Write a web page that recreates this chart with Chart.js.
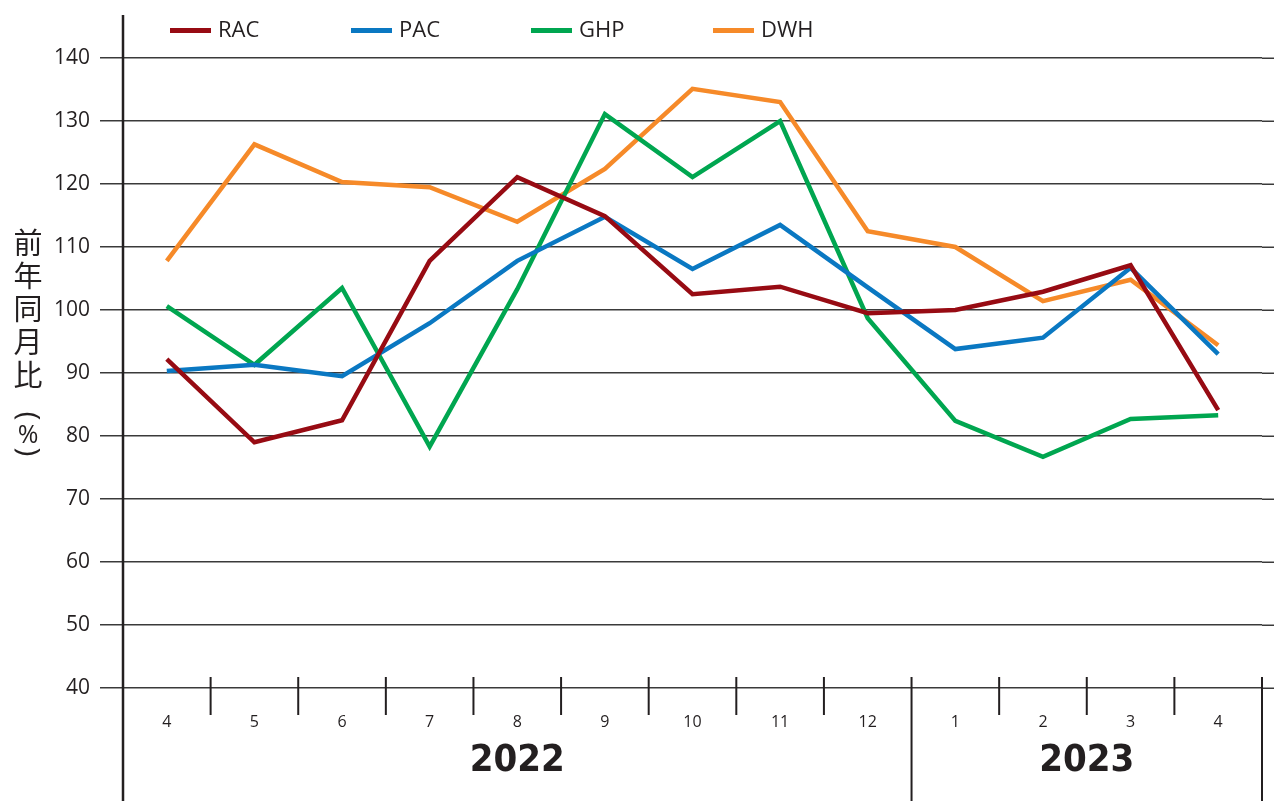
<!DOCTYPE html>
<html><head><meta charset="utf-8">
<script src="https://cdn.jsdelivr.net/npm/chart.js@4/dist/chart.umd.min.js"></script>
<style>html,body{margin:0;padding:0;background:#fff;}#wrap{width:1274px;height:801px;}</style>
</head><body><div id="wrap"><canvas id="c" width="1274" height="801"></canvas></div>
<script>
const months = ['4','5','6','7','8','9','10','11','12','1','2','3','4'];
const yearLabels = ['2022','2023'];
const yearSpans = [[0,8],[9,12]];
const rac = [92.2,79.0,82.5,107.8,121.1,114.9,102.5,103.7,99.5,100.0,102.9,107.1,84.1];
const pac = [90.3,91.3,89.5,97.9,107.8,114.8,106.5,113.5,103.6,93.8,95.6,106.7,93.0];
const ghp = [100.6,91.3,103.5,78.3,103.3,131.1,121.1,130.0,98.7,82.4,76.7,82.7,83.3];
const dwh = [107.8,126.3,120.3,119.5,114.0,122.4,135.1,133.0,112.5,110.0,101.4,104.8,94.4];
const seriesNames = ['RAC','PAC','GHP','DWH'];
const seriesColors = ['#970b13','#0a78c2','#00a650','#f68a29'];
const yTitleChars = ['前','年','同','月','比'];
const INK = '#231f20';
const FONT = "'Open Sans', 'Noto Sans', sans-serif";

const decor = {
  id:'decor',
  afterDraw(chart){
    const ctx = chart.ctx, ca = chart.chartArea, x = chart.scales.x, y = chart.scales.y;
    const W = chart.width, H = chart.height;
    ctx.save();
    // extend gridlines to right edge
    ctx.strokeStyle = '#3a3a3a'; ctx.lineWidth = 1.5;
    for (let v = 40; v <= 140; v += 10){
      const py = Math.round(y.getPixelForValue(v)) + 0.25;
      ctx.beginPath(); ctx.moveTo(ca.right, py); ctx.lineTo(W, py); ctx.stroke();
    }
    // y axis line
    ctx.strokeStyle = INK; ctx.lineWidth = 2.5;
    ctx.beginPath(); ctx.moveTo(ca.left, 15); ctx.lineTo(ca.left, H); ctx.stroke();
    // category separators
    const base = y.getPixelForValue(40);
    ctx.lineWidth = 2;
    for (let i = 1; i <= months.length; i++){
      let px;
      if (i < months.length) px = (x.getPixelForValue(i-1) + x.getPixelForValue(i))/2;
      else px = x.getPixelForValue(i-1) + (x.getPixelForValue(1)-x.getPixelForValue(0))/2;
      const long = (i === yearSpans[1][0]) || i === months.length;
      ctx.beginPath(); ctx.moveTo(px, base - 11); ctx.lineTo(px, long ? H : base + 27); ctx.stroke();
    }
    // year labels
    ctx.fillStyle = INK;
    ctx.font = "bold 38px 'Liberation Sans Narrow', 'DejaVu Sans Condensed', sans-serif";
    ctx.textAlign = 'center'; ctx.textBaseline = 'middle';
    yearLabels.forEach((lab, k) => {
      const cx = (x.getPixelForValue(yearSpans[k][0]) + x.getPixelForValue(yearSpans[k][1]))/2;
      ctx.fillText(lab, cx, 761);
    });
    // legend
    ctx.font = '22px ' + FONT; ctx.textAlign = 'left';
    const lx = [170, 351, 531, 713];
    seriesNames.forEach((n, k) => {
      ctx.fillStyle = seriesColors[k];
      ctx.fillRect(lx[k], 28, 41, 5);
      ctx.fillStyle = INK;
      ctx.fillText(n, lx[k] + 48, 31);
    });
    // y title
    ctx.font = "29px 'Noto Sans CJK JP', sans-serif"; ctx.textAlign = 'center';
    yTitleChars.forEach((ch, k) => ctx.fillText(ch, 28, 243 + k*33));
    ctx.font = '30px ' + FONT;
    ctx.save(); ctx.translate(28, 416); ctx.rotate(Math.PI/2); ctx.fillText('(', 0, 0); ctx.restore();
    ctx.save(); ctx.translate(28, 452); ctx.rotate(Math.PI/2); ctx.fillText(')', 0, 0); ctx.restore();
    ctx.font = '25px ' + FONT;
    ctx.fillText('%', 28, 436);
    ctx.restore();
  }
};

const data = {
  labels: months,
  datasets: [rac, pac, ghp, dwh].map((d, k) => ({
    label: seriesNames[k], data: d, borderColor: seriesColors[k], backgroundColor: seriesColors[k],
    borderWidth: 4.5, pointRadius: 0, tension: 0, fill: false
  }))
};

new Chart(document.getElementById('c'), {
  type: 'line',
  data,
  options: {
    responsive: false, animation: false, devicePixelRatio: 1,
    layout: { padding: { top: 58, right: 12, left: 0, bottom: 0 } },
    plugins: { legend: { display: false }, tooltip: { enabled: false } },
    scales: {
      x: {
        offset: true,
        grid: { display: false, drawTicks: false },
        border: { display: false },
        ticks: { color: INK, font: { family: FONT, size: 16 }, padding: 25, maxRotation: 0, autoSkip: false },
        afterFit(s){ s.height = 113; }
      },
      y: {
        min: 40, max: 140,
        ticks: { stepSize: 10, color: INK, font: { family: FONT, size: 21 }, padding: 10 },
        grid: { color: '#3a3a3a', lineWidth: 1.5, tickLength: 23, tickColor: '#3a3a3a' },
        border: { display: false },
        afterFit(s){ s.width = 123; }
      }
    }
  },
  plugins: [decor]
});
</script></body></html>
